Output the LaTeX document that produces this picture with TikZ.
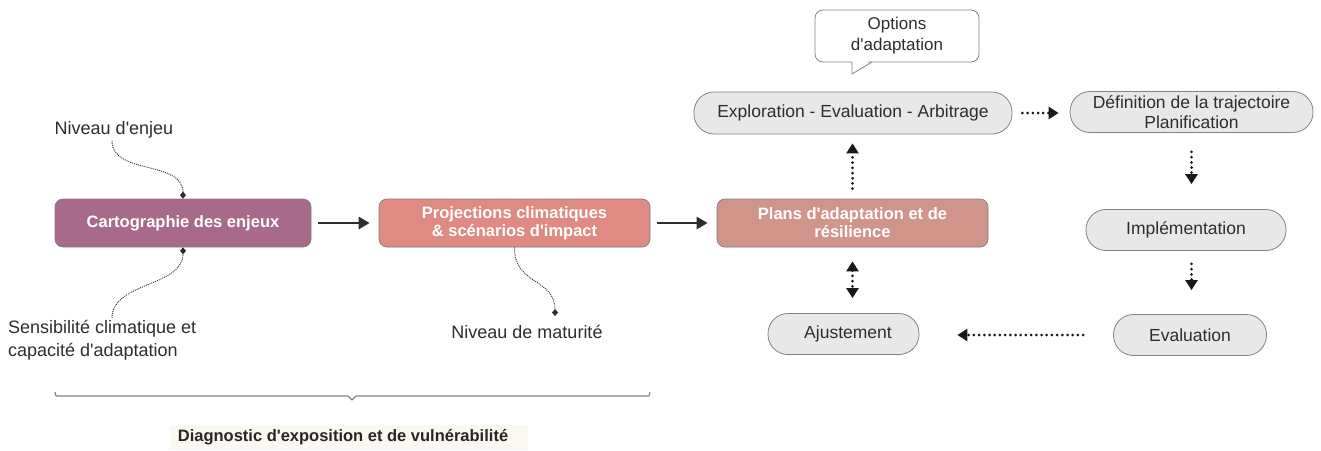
\documentclass[tikz,border=0pt]{standalone}
\usepackage{fontspec}
\setmainfont{Liberation Sans}
\usetikzlibrary{arrows.meta}
\newcommand{\sq}{\textquotesingle}
\definecolor{mauve}{RGB}{168,106,138}
\definecolor{salmon}{RGB}{223,138,130}
\definecolor{dustypink}{RGB}{209,148,138}
\definecolor{pillgray}{RGB}{232,232,232}
\definecolor{edgegray}{RGB}{130,130,130}
\definecolor{ink}{RGB}{45,45,45}
\definecolor{cream}{RGB}{250,248,241}
\tikzset{
  mainbox/.style={draw=black!50, line width=0.7pt, rounded corners=8pt,
    minimum height=48pt, text=white, align=center, inner sep=0pt,
    font=\bfseries\fontsize{16.5}{19}\selectfont},
  pill/.style={draw=edgegray, line width=0.8pt, fill=pillgray, rounded corners=20pt,
    minimum height=41pt, text=ink, align=center, inner sep=0pt,
    font=\fontsize{17.5}{20}\selectfont},
  label/.style={text=ink, font=\fontsize{18}{23}\selectfont, inner sep=0pt},
  solidflow/.style={line width=2.8pt, draw=ink, -{Triangle[length=11pt,width=12pt]}},
  dotflow/.style={line width=3pt, draw=black!90, line cap=round,
    dash pattern=on 0pt off 5.2pt, -{Triangle[length=10pt,width=12pt]}},
  dotflowboth/.style={dotflow, {Triangle[length=10pt,width=12pt]}-{Triangle[length=10pt,width=12pt]}},
  tether/.style={line width=0.9pt, draw=ink, dash pattern=on 1pt off 1pt}
}
\begin{document}
\begin{tikzpicture}[x=1pt,y=-1pt]
\useasboundingbox (0,0) rectangle (1321,450);

% main process boxes
\node[mainbox, fill=mauve, minimum width=256pt] (carto) at (183,223) {Cartographie des enjeux};
\node[mainbox, fill=salmon, minimum width=271pt] (proj) at (514.5,223) {Projections climatiques\\[-1pt]\& scénarios d\sq impact};
\node[mainbox, fill=dustypink, minimum width=271pt] (plans) at (852.5,223) {Plans d\sq adaptation et de\\[-1pt]résilience};

% adaptation cycle
\node[pill, minimum width=318pt, minimum height=42pt] (explo) at (853,113) {Exploration - Evaluation - Arbitrage};
\node[pill, minimum width=243pt] (traj) at (1191.5,112) {Définition de la trajectoire\\Planification};
\node[pill, minimum width=200pt] (impl) at (1186,230) {Implémentation};
\node[pill, minimum width=153pt] (eval) at (1190,335) {Evaluation};
\node[pill, minimum width=151pt, text width=151pt] (ajust) at (843.5,334) {\hspace*{9pt}Ajustement};

% speech bubble
\node[draw=edgegray, line width=0.8pt, fill=white, rounded corners=8pt,
  minimum width=164pt, minimum height=52pt, align=center, text=ink,
  font=\fontsize{17}{21}\selectfont] (opt) at (897,36) {Options\\d\sq adaptation};
\coordinate (tailtip) at (852,74);
\fill[white] (852,58) -- (tailtip) -- (873,58) -- cycle;
\draw[edgegray, line width=0.8pt, line join=round] (852,62) -- (tailtip) -- (872,62);

% main flow
\draw[solidflow, shorten <=7pt, shorten >=9pt] (carto) -- (proj);
\draw[solidflow, shorten <=7pt, shorten >=9pt] (proj) -- (plans);

% cycle connectors
\draw[dotflow, shorten <=10pt, shorten >=9pt] (plans.north) -- (plans.north |- explo.south);
\draw[dotflow, shorten <=10pt, shorten >=11pt] (explo.east) -- (explo.east -| traj.west);
\draw[dotflow, shorten <=19pt, shorten >=25pt] (traj.south) -- (traj.south |- impl.north);
\draw[dotflow, shorten <=13pt, shorten >=24pt] (traj.south |- impl.south) -- (traj.south |- eval.north);
\draw[dotflow, shorten <=30pt, shorten >=38pt] (eval.west) -- (eval.west -| ajust.east);
\draw[dotflowboth, shorten <=14pt, shorten >=15pt] (plans.south) -- (plans.south |- ajust.north);

% annotations
\node[label] (enjeu) at (114,130) {Niveau d\sq enjeu};
\node[label, align=left, anchor=north west] (sensib) at (8,320) {Sensibilité climatique et\\capacité d\sq adaptation};
\node[label] (matur) at (527,332) {Niveau de maturité};
\coordinate (sensibpin) at (112,318);
\coordinate (maturpin) at (555,316);

\draw[tether, -{Diamond[length=7pt,width=6pt]}] (112,141) .. controls (112,175) and (183,160) .. (carto.north);
\draw[tether, -{Diamond[length=7pt,width=6pt]}] (sensibpin) .. controls (112,282) and (183,287) .. (carto.south);
\draw[tether, -{Diamond[length=7pt,width=6pt]}] (proj.south) .. controls (514,285) and (555,278) .. (maturpin);

% grouping brace
\fill[cream] (170,425) rectangle (528,450);
\draw[edgegray, line width=1.1pt, line join=round]
  (55,392) -- (56,396) -- (348,396) -- (352,400) -- (356,396) -- (649,396) -- (650,392);
\node[font=\bfseries\fontsize{16.5}{19}\selectfont, text=black!85, inner sep=0pt] (diag) at (343,437) {Diagnostic d\sq exposition et de vulnérabilité};
\end{tikzpicture}
\end{document}
